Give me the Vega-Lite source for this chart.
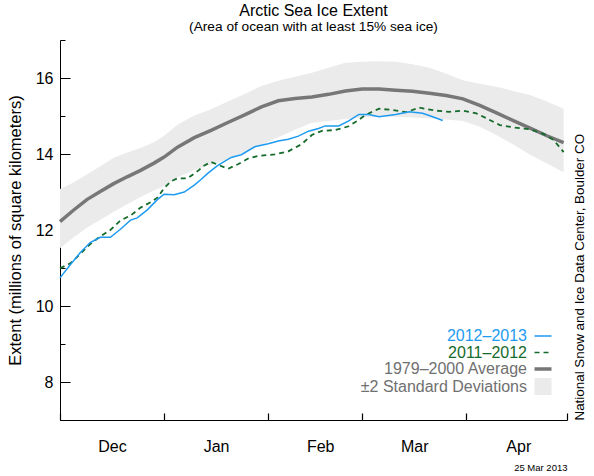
{
  "$schema": "https://vega.github.io/schema/vega-lite/v6.json",
  "width": 507,
  "height": 380,
  "autosize": "none",
  "padding": {"left": 60, "top": 40, "right": 27, "bottom": 56},
  "background": "white",
  "title": {
    "text": "Arctic Sea Ice Extent",
    "subtitle": "(Area of ocean with at least 15% sea ice)",
    "fontSize": 16,
    "subtitleFontSize": 13.7,
    "fontWeight": "normal",
    "color": "black",
    "subtitleColor": "black",
    "anchor": "middle",
    "frame": "group",
    "offset": 6,
    "subtitlePadding": 1
  },
  "datasets": {
    "clim": [
      {"date": "2012-12-01", "avg": 12.22, "lo": 11.52, "hi": 13.08},
      {"date": "2012-12-05", "avg": 12.52, "lo": 11.80, "hi": 13.25},
      {"date": "2012-12-09", "avg": 12.80, "lo": 12.06, "hi": 13.46},
      {"date": "2012-12-13", "avg": 13.01, "lo": 12.27, "hi": 13.68},
      {"date": "2012-12-17", "avg": 13.22, "lo": 12.48, "hi": 13.90},
      {"date": "2012-12-21", "avg": 13.40, "lo": 12.68, "hi": 14.04},
      {"date": "2012-12-25", "avg": 13.57, "lo": 12.87, "hi": 14.16},
      {"date": "2012-12-29", "avg": 13.76, "lo": 13.04, "hi": 14.31},
      {"date": "2013-01-01", "avg": 13.92, "lo": 13.15, "hi": 14.48},
      {"date": "2013-01-05", "avg": 14.18, "lo": 13.39, "hi": 14.77},
      {"date": "2013-01-10", "avg": 14.43, "lo": 13.58, "hi": 15.01},
      {"date": "2013-01-15", "avg": 14.62, "lo": 13.71, "hi": 15.18},
      {"date": "2013-01-20", "avg": 14.83, "lo": 13.87, "hi": 15.38},
      {"date": "2013-01-25", "avg": 15.03, "lo": 14.05, "hi": 15.58},
      {"date": "2013-01-30", "avg": 15.24, "lo": 14.24, "hi": 15.79},
      {"date": "2013-02-04", "avg": 15.40, "lo": 14.44, "hi": 15.93},
      {"date": "2013-02-09", "avg": 15.46, "lo": 14.64, "hi": 16.03},
      {"date": "2013-02-14", "avg": 15.50, "lo": 14.82, "hi": 16.14},
      {"date": "2013-02-19", "avg": 15.57, "lo": 14.87, "hi": 16.27},
      {"date": "2013-02-24", "avg": 15.66, "lo": 14.92, "hi": 16.40},
      {"date": "2013-03-01", "avg": 15.71, "lo": 14.97, "hi": 16.43},
      {"date": "2013-03-06", "avg": 15.71, "lo": 14.98, "hi": 16.44},
      {"date": "2013-03-11", "avg": 15.68, "lo": 14.98, "hi": 16.43},
      {"date": "2013-03-16", "avg": 15.65, "lo": 14.96, "hi": 16.36},
      {"date": "2013-03-21", "avg": 15.60, "lo": 14.94, "hi": 16.27},
      {"date": "2013-03-26", "avg": 15.54, "lo": 14.91, "hi": 16.12},
      {"date": "2013-03-31", "avg": 15.45, "lo": 14.87, "hi": 15.94},
      {"date": "2013-04-05", "avg": 15.28, "lo": 14.72, "hi": 15.85},
      {"date": "2013-04-10", "avg": 15.08, "lo": 14.50, "hi": 15.77},
      {"date": "2013-04-15", "avg": 14.88, "lo": 14.25, "hi": 15.66},
      {"date": "2013-04-20", "avg": 14.68, "lo": 13.98, "hi": 15.55},
      {"date": "2013-04-25", "avg": 14.48, "lo": 13.75, "hi": 15.38},
      {"date": "2013-04-30", "avg": 14.30, "lo": 13.52, "hi": 15.19}
    ],
    "years": [
      {"season": "2011–2012", "date": "2012-12-01", "extent": 10.99},
      {"season": "2011–2012", "date": "2012-12-04", "extent": 11.12},
      {"season": "2011–2012", "date": "2012-12-06", "extent": 11.28},
      {"season": "2011–2012", "date": "2012-12-10", "extent": 11.63},
      {"season": "2011–2012", "date": "2012-12-13", "extent": 11.83},
      {"season": "2011–2012", "date": "2012-12-16", "extent": 12.00},
      {"season": "2011–2012", "date": "2012-12-19", "extent": 12.25},
      {"season": "2011–2012", "date": "2012-12-22", "extent": 12.38},
      {"season": "2011–2012", "date": "2012-12-25", "extent": 12.59},
      {"season": "2011–2012", "date": "2012-12-28", "extent": 12.73},
      {"season": "2011–2012", "date": "2012-12-30", "extent": 12.85},
      {"season": "2011–2012", "date": "2013-01-01", "extent": 13.10},
      {"season": "2011–2012", "date": "2013-01-03", "extent": 13.28},
      {"season": "2011–2012", "date": "2013-01-05", "extent": 13.36},
      {"season": "2011–2012", "date": "2013-01-08", "extent": 13.36},
      {"season": "2011–2012", "date": "2013-01-11", "extent": 13.55},
      {"season": "2011–2012", "date": "2013-01-13", "extent": 13.70},
      {"season": "2011–2012", "date": "2013-01-15", "extent": 13.79},
      {"season": "2011–2012", "date": "2013-01-17", "extent": 13.72},
      {"season": "2011–2012", "date": "2013-01-20", "extent": 13.61},
      {"season": "2011–2012", "date": "2013-01-23", "extent": 13.73},
      {"season": "2011–2012", "date": "2013-01-26", "extent": 13.88},
      {"season": "2011–2012", "date": "2013-01-29", "extent": 13.95},
      {"season": "2011–2012", "date": "2013-02-03", "extent": 13.99},
      {"season": "2011–2012", "date": "2013-02-07", "extent": 14.07},
      {"season": "2011–2012", "date": "2013-02-11", "extent": 14.26},
      {"season": "2011–2012", "date": "2013-02-14", "extent": 14.50},
      {"season": "2011–2012", "date": "2013-02-17", "extent": 14.61},
      {"season": "2011–2012", "date": "2013-02-21", "extent": 14.63},
      {"season": "2011–2012", "date": "2013-02-25", "extent": 14.73},
      {"season": "2011–2012", "date": "2013-02-28", "extent": 14.90},
      {"season": "2011–2012", "date": "2013-03-02", "extent": 15.03},
      {"season": "2011–2012", "date": "2013-03-06", "extent": 15.19},
      {"season": "2011–2012", "date": "2013-03-10", "extent": 15.16},
      {"season": "2011–2012", "date": "2013-03-14", "extent": 15.10},
      {"season": "2011–2012", "date": "2013-03-18", "extent": 15.22},
      {"season": "2011–2012", "date": "2013-03-23", "extent": 15.14},
      {"season": "2011–2012", "date": "2013-03-27", "extent": 15.11},
      {"season": "2011–2012", "date": "2013-03-31", "extent": 15.14},
      {"season": "2011–2012", "date": "2013-04-04", "extent": 15.07},
      {"season": "2011–2012", "date": "2013-04-07", "extent": 14.94},
      {"season": "2011–2012", "date": "2013-04-11", "extent": 14.76},
      {"season": "2011–2012", "date": "2013-04-15", "extent": 14.70},
      {"season": "2011–2012", "date": "2013-04-20", "extent": 14.65},
      {"season": "2011–2012", "date": "2013-04-24", "extent": 14.53},
      {"season": "2011–2012", "date": "2013-04-27", "extent": 14.37},
      {"season": "2011–2012", "date": "2013-04-30", "extent": 14.05},
      {"season": "2012–2013", "date": "2012-12-01", "extent": 10.74},
      {"season": "2012–2013", "date": "2012-12-04", "extent": 11.08},
      {"season": "2012–2013", "date": "2012-12-07", "extent": 11.40},
      {"season": "2012–2013", "date": "2012-12-10", "extent": 11.67},
      {"season": "2012–2013", "date": "2012-12-13", "extent": 11.81},
      {"season": "2012–2013", "date": "2012-12-16", "extent": 11.81},
      {"season": "2012–2013", "date": "2012-12-19", "extent": 12.02},
      {"season": "2012–2013", "date": "2012-12-22", "extent": 12.26},
      {"season": "2012–2013", "date": "2012-12-24", "extent": 12.32},
      {"season": "2012–2013", "date": "2012-12-27", "extent": 12.53},
      {"season": "2012–2013", "date": "2012-12-30", "extent": 12.80},
      {"season": "2012–2013", "date": "2013-01-01", "extent": 12.94},
      {"season": "2012–2013", "date": "2013-01-04", "extent": 12.93},
      {"season": "2012–2013", "date": "2013-01-07", "extent": 13.00},
      {"season": "2012–2013", "date": "2013-01-10", "extent": 13.18},
      {"season": "2012–2013", "date": "2013-01-12", "extent": 13.33},
      {"season": "2012–2013", "date": "2013-01-14", "extent": 13.49},
      {"season": "2012–2013", "date": "2013-01-17", "extent": 13.70},
      {"season": "2012–2013", "date": "2013-01-21", "extent": 13.91},
      {"season": "2012–2013", "date": "2013-01-24", "extent": 13.98},
      {"season": "2012–2013", "date": "2013-01-28", "extent": 14.19},
      {"season": "2012–2013", "date": "2013-02-01", "extent": 14.27},
      {"season": "2012–2013", "date": "2013-02-04", "extent": 14.34},
      {"season": "2012–2013", "date": "2013-02-07", "extent": 14.39},
      {"season": "2012–2013", "date": "2013-02-10", "extent": 14.47},
      {"season": "2012–2013", "date": "2013-02-13", "extent": 14.60},
      {"season": "2012–2013", "date": "2013-02-16", "extent": 14.67},
      {"season": "2012–2013", "date": "2013-02-18", "extent": 14.74},
      {"season": "2012–2013", "date": "2013-02-22", "extent": 14.74},
      {"season": "2012–2013", "date": "2013-02-25", "extent": 14.87},
      {"season": "2012–2013", "date": "2013-02-28", "extent": 15.04},
      {"season": "2012–2013", "date": "2013-03-03", "extent": 15.04},
      {"season": "2012–2013", "date": "2013-03-06", "extent": 14.98},
      {"season": "2012–2013", "date": "2013-03-11", "extent": 15.04},
      {"season": "2012–2013", "date": "2013-03-15", "extent": 15.11},
      {"season": "2012–2013", "date": "2013-03-19", "extent": 15.07},
      {"season": "2012–2013", "date": "2013-03-22", "extent": 14.98},
      {"season": "2012–2013", "date": "2013-03-25", "extent": 14.88}
    ]
  },
  "encoding": {
    "x": {
      "field": "date",
      "type": "temporal",
      "scale": {
        "type": "utc",
        "domain": [
          {"year": 2012, "month": 12, "date": 1, "utc": true},
          {"year": 2013, "month": 5, "date": 1, "utc": true}
        ]
      },
      "axis": {
        "values": [
          {"year": 2012, "month": 12, "date": 1, "utc": true},
          {"year": 2013, "month": 1, "date": 1, "utc": true},
          {"year": 2013, "month": 2, "date": 1, "utc": true},
          {"year": 2013, "month": 3, "date": 1, "utc": true},
          {"year": 2013, "month": 4, "date": 1, "utc": true},
          {"year": 2013, "month": 5, "date": 1, "utc": true}
        ],
        "format": "%b",
        "labelExpr": "datum.label === 'May' ? '' : datum.label",
        "labelOffset": 52,
        "labelFlush": false,
        "labelOverlap": false,
        "labelFontSize": 16,
        "labelPadding": 25,
        "tickSize": {"expr": "datum.value > 0 ? -7 : -7"},
        "tickWidth": 1.2,
        "grid": false,
        "title": "25 Mar 2013",
        "titleFontSize": 9.5,
        "titleFontWeight": "normal",
        "titleAnchor": "end",
        "titlePadding": 8
      }
    }
  },
  "layer": [
    {
      "data": {"name": "clim"},
      "mark": {"type": "area", "opacity": 1},
      "encoding": {
        "y": {
          "field": "lo",
          "type": "quantitative",
          "scale": {"domain": [7, 17], "nice": false, "zero": false},
          "axis": {
            "values": [7, 7.5, 8, 8.5, 9, 9.5, 10, 10.5, 11, 11.5, 12, 12.5, 13, 13.5, 14, 14.5, 15, 15.5, 16, 16.5, 17],
            "format": "d",
            "labelExpr": "datum.value % 2 === 0 ? datum.label : ''",
            "labelFontSize": 16,
            "labelPadding": 17,
            "tickSize": {"expr": "datum.value % 2 === 0 ? -10 : -5"},
            "grid": false,
            "title": "Extent (millions of square kilometers)",
            "titleFontSize": 16.5,
            "titleFontWeight": "normal",
            "titlePadding": 12
          }
        },
        "y2": {"field": "hi"},
        "color": {
          "datum": "±2 Standard Deviations",
          "type": "nominal",
          "scale": {
            "domain": ["2012–2013", "2011–2012", "1979–2000 Average", "±2 Standard Deviations"],
            "range": ["#1e9bf0", "#156b2b", "#777777", "#ebebeb"]
          }
        }
      }
    },
    {
      "data": {"name": "clim"},
      "mark": {"type": "line", "strokeWidth": 3.5},
      "encoding": {
        "y": {
          "field": "avg",
          "type": "quantitative",
          "axis": {
            "orient": "right",
            "domain": false,
            "ticks": false,
            "labels": false,
            "grid": false,
            "title": "National Snow and Ice Data Center, Boulder CO",
            "titleAngle": 270,
            "titleAnchor": "start",
            "titleFontSize": 13.4,
            "titleFontWeight": "normal",
            "titlePadding": 19
          }
        },
        "color": {"datum": "1979–2000 Average", "type": "nominal"}
      }
    },
    {
      "data": {"name": "years"},
      "transform": [{"filter": "datum.season === '2011–2012'"}],
      "mark": {"type": "line", "strokeWidth": 1.8, "strokeDash": [5, 4]},
      "encoding": {
        "y": {"field": "extent", "type": "quantitative", "axis": null},
        "color": {"field": "season", "type": "nominal"}
      }
    },
    {
      "data": {"name": "years"},
      "transform": [{"filter": "datum.season === '2012–2013'"}],
      "mark": {"type": "line", "strokeWidth": 1.5},
      "encoding": {
        "y": {"field": "extent", "type": "quantitative", "axis": null},
        "color": {
          "field": "season",
          "type": "nominal",
          "legend": {
            "orient": "none",
            "legendX": 475,
            "legendY": 288,
            "title": null,
            "padding": 0,
            "rowPadding": 0.5,
            "symbolType": "stroke",
            "symbolSize": 289,
            "labelFontSize": 16,
            "labelLimit": 300,
            "encoding": {
              "labels": {
                "x": {"value": -8},
                "align": {"value": "right"},
                "fill": {"value": {"expr": "datum.value === '2012–2013' ? '#1e9bf0' : datum.value === '2011–2012' ? '#156b2b' : '#707070'"}}
              },
              "symbols": {
                "shape": {"value": {"expr": "datum.value === '±2 Standard Deviations' ? 'square' : 'stroke'"}},
                "fill": {"value": {"expr": "datum.value === '±2 Standard Deviations' ? '#ebebeb' : 'transparent'"}},
                "stroke": {"value": {"expr": "datum.value === '2012–2013' ? '#1e9bf0' : datum.value === '2011–2012' ? '#156b2b' : datum.value === '1979–2000 Average' ? '#777777' : 'transparent'"}},
                "strokeWidth": {"value": {"expr": "datum.value === '1979–2000 Average' ? 3.5 : datum.value === '±2 Standard Deviations' ? 0 : 1.5"}},
                "strokeDash": {"value": {"expr": "datum.value === '2011–2012' ? [5, 4] : [1, 0]"}},
                "opacity": {"value": 1}
              }
            }
          }
        }
      }
    }
  ],
  "resolve": {"axis": {"y": "independent"}},
  "config": {
    "font": "Liberation Sans",
    "view": {"stroke": null},
    "axis": {
      "labelColor": "black",
      "titleColor": "black",
      "domainColor": "black",
      "tickColor": "black",
      "labelFont": "Liberation Sans",
      "titleFont": "Liberation Sans"
    },
    "legend": {"labelFont": "Liberation Sans"}
  }
}
